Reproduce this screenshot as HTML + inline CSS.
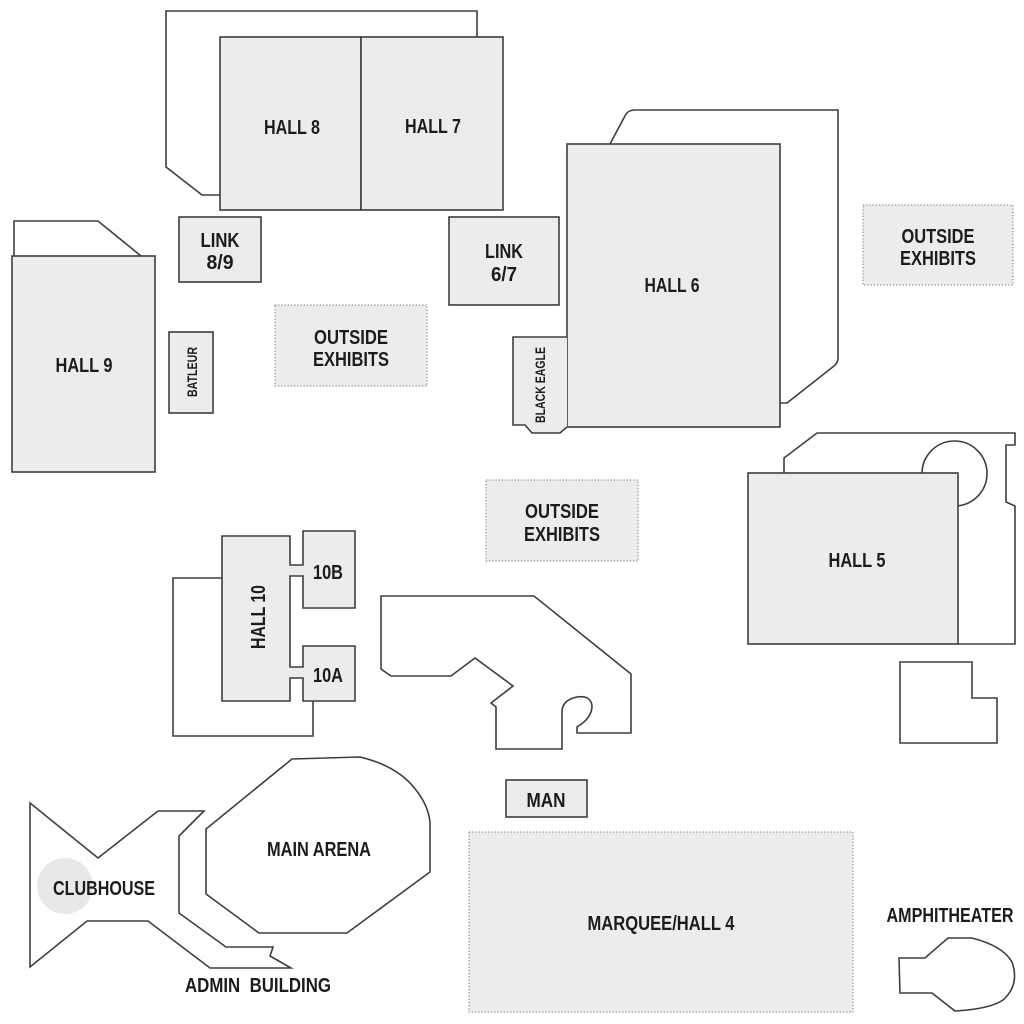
<!DOCTYPE html>
<html>
<head>
<meta charset="utf-8">
<style>
  html,body{margin:0;padding:0;background:#fff;}
  svg{display:block;}
  text{font-family:"Liberation Sans",Arial,sans-serif;font-weight:bold;fill:#1c1c1c;}
</style>
</head>
<body>
<svg width="1024" height="1024" viewBox="0 0 1024 1024" xmlns="http://www.w3.org/2000/svg">
  <rect x="0" y="0" width="1024" height="1024" fill="#fff"/>
  <g stroke="#3e3e3e" stroke-width="1.6" stroke-linejoin="miter">
    <!-- Hall 8/7 outer outline -->
    <path d="M220,195 L202,195 L166,167 L166,11 L477,11 L477,37" fill="#fff"/>
    <rect x="220" y="37" width="141" height="173" fill="#ececec"/>
    <rect x="361" y="37" width="142" height="173" fill="#ececec"/>

    <!-- Hall 9 -->
    <path d="M14,256 L14,221 L98,221 L141,256" fill="#fff"/>
    <rect x="12" y="256" width="143" height="216" fill="#ececec"/>

    <!-- Links -->
    <rect x="179" y="217" width="82" height="65" fill="#ececec"/>
    <rect x="449" y="217" width="110" height="88" fill="#ececec"/>

    <!-- Batleur -->
    <rect x="169" y="332" width="44" height="81" fill="#ececec"/>

    <!-- Hall 6 outer -->
    <path d="M610,144 L626,114 Q629,110 635,110 L838,110 L838,358 Q838,363 834,366 L787,403 L780,403" fill="#fff"/>
    <rect x="567" y="144" width="213" height="283" fill="#ececec"/>
    <!-- Black Eagle -->
    <path d="M567,337 L513,337 L513,425 L525,425 L532,433 L560,433 L567,427" fill="#ececec"/>

    <!-- Hall 5 outer -->
    <path d="M784,473 L784,458 L817,433 L1015,433 L1015,445 L1006,445 L1006,502 L1015,506 L1015,644 L958,644" fill="#fff"/>
    <circle cx="954.5" cy="473.5" r="32.5" fill="#fff"/>
    <rect x="748" y="473" width="210" height="171" fill="#ececec"/>

    <!-- L shape -->
    <path d="M900,662 L972,662 L972,698 L997,698 L997,743 L900,743 Z" fill="#fff"/>

    <!-- Hall 10 outer -->
    <path d="M222,578 L173,578 L173,736 L313,736 L313,701" fill="none"/>
    <!-- Hall 10 + 10A + 10B -->
    <path d="M222,536 L290,536 L290,565 L303,565 L303,531 L355,531 L355,608 L303,608 L303,576 L290,576 L290,667 L303,667 L303,646 L355,646 L355,701 L303,701 L303,678 L290,678 L290,701 L222,701 Z" fill="#ececec"/>

    <!-- Odd building -->
    <path d="M381,596 L534,596 L631,674 L631,733 L577,733 L577,727 Q592,718 592,706 Q591,695 577,697 Q562,700 562,712 L562,749 L496,749 L496,707 L491,703 L513,686 L475,658 L451,676 L391,676 L381,669 Z" fill="#fff"/>

    <!-- Clubhouse circle -->
    <circle cx="65" cy="886" r="28" fill="#e8e8e8" stroke="none"/>
    <!-- Clubhouse / admin outline -->
    <path d="M30,803 L98,858 L158,811 L204,811 L179,836 L179,913 L226,947 L273,947 L270,956 L291,968 L210,968 L148,921 L87,921 L30,967 Z" fill="none"/>

    <!-- Main arena -->
    <path d="M292,759 L360,757 Q398,766 416,790 Q428,805 430,822 L430,872 L347,933 L259,933 L206,894 L206,829 Z" fill="#fff"/>

    <!-- MAN -->
    <rect x="506" y="780" width="81" height="37" fill="#ececec"/>

    <!-- Amphitheater -->
    <path d="M899,958 L925,958 L948,938 L972,938 Q1003,946 1012,962 Q1020,985 1003,1000 Q990,1009 955,1011 L932,993 L900,993 Z" fill="#fff"/>
  </g>

  <!-- Dotted outside exhibits / marquee -->
  <g stroke="#8c8c8c" stroke-width="1.2" stroke-dasharray="1.2 2" fill="#ececec">
    <rect x="275" y="305" width="152" height="81"/>
    <rect x="863" y="205" width="150" height="80"/>
    <rect x="486" y="480" width="152" height="81"/>
    <rect x="469" y="832" width="384" height="180"/>
  </g>

  <!-- Labels -->
  <g font-size="20" text-anchor="middle">
    <text x="292" y="134" textLength="56" lengthAdjust="spacingAndGlyphs">HALL 8</text>
    <text x="433" y="133" textLength="56" lengthAdjust="spacingAndGlyphs">HALL 7</text>
    <text x="672" y="292" textLength="55" lengthAdjust="spacingAndGlyphs">HALL 6</text>
    <text x="84" y="372" textLength="57" lengthAdjust="spacingAndGlyphs">HALL 9</text>
    <text x="857" y="567" textLength="57" lengthAdjust="spacingAndGlyphs">HALL 5</text>

    <text x="220" y="247" textLength="39" lengthAdjust="spacingAndGlyphs">LINK</text>
    <text x="220" y="269" textLength="27" lengthAdjust="spacingAndGlyphs">8/9</text>
    <text x="504" y="258" textLength="38" lengthAdjust="spacingAndGlyphs">LINK</text>
    <text x="504" y="281" textLength="26" lengthAdjust="spacingAndGlyphs">6/7</text>

    <text x="351" y="344" textLength="74" lengthAdjust="spacingAndGlyphs">OUTSIDE</text>
    <text x="351" y="366" textLength="76" lengthAdjust="spacingAndGlyphs">EXHIBITS</text>
    <text x="938" y="243" textLength="73" lengthAdjust="spacingAndGlyphs">OUTSIDE</text>
    <text x="938" y="265" textLength="76" lengthAdjust="spacingAndGlyphs">EXHIBITS</text>
    <text x="562" y="518" textLength="74" lengthAdjust="spacingAndGlyphs">OUTSIDE</text>
    <text x="562" y="541" textLength="76" lengthAdjust="spacingAndGlyphs">EXHIBITS</text>

    <text x="328" y="579" textLength="30" lengthAdjust="spacingAndGlyphs">10B</text>
    <text x="328" y="682" textLength="30" lengthAdjust="spacingAndGlyphs">10A</text>
    <text x="546" y="807" textLength="39" lengthAdjust="spacingAndGlyphs">MAN</text>
    <text x="319" y="856" textLength="104" lengthAdjust="spacingAndGlyphs">MAIN ARENA</text>
    <text x="104" y="895" textLength="102" lengthAdjust="spacingAndGlyphs">CLUBHOUSE</text>
    <text x="258" y="992" textLength="146" lengthAdjust="spacingAndGlyphs" xml:space="preserve">ADMIN  BUILDING</text>
    <text x="661" y="930" textLength="147" lengthAdjust="spacingAndGlyphs">MARQUEE/HALL 4</text>
    <text x="950" y="922" textLength="127" lengthAdjust="spacingAndGlyphs">AMPHITHEATER</text>

    <g transform="translate(258,617) rotate(-90)">
      <text x="0" y="7" textLength="64" lengthAdjust="spacingAndGlyphs">HALL 10</text>
    </g>
  </g>
  <g font-size="13.5" text-anchor="middle">
    <g transform="translate(192,372) rotate(-90)">
      <text x="0" y="5" textLength="50" lengthAdjust="spacingAndGlyphs">BATLEUR</text>
    </g>
    <g transform="translate(540,385) rotate(-90)">
      <text x="0" y="5" textLength="76" lengthAdjust="spacingAndGlyphs">BLACK EAGLE</text>
    </g>
  </g>
</svg>
</body>
</html>
